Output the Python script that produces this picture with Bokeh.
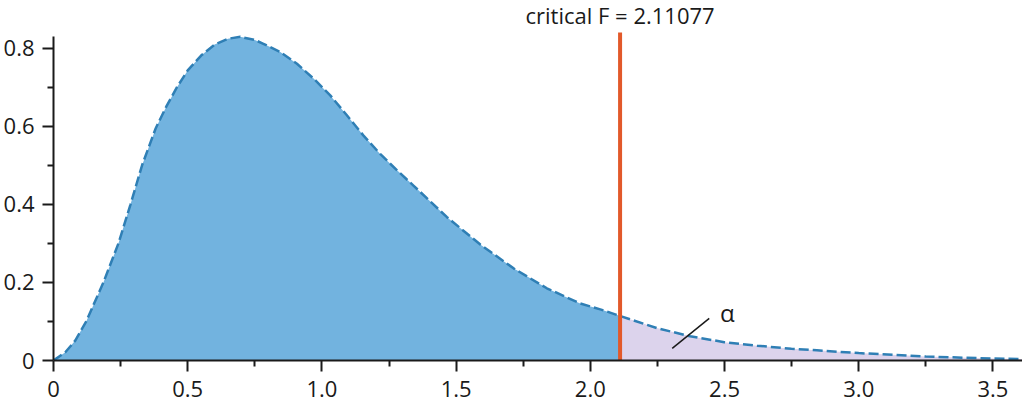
from bokeh.plotting import figure
from bokeh.models import FixedTicker, Range1d
from bokeh.core.properties import value
from bokeh.embed import file_html
from bokeh.resources import INLINE

# F density curve
fx = [0.00, 0.044, 0.081, 0.122, 0.15, 0.186, 0.242, 0.287, 0.33, 0.381, 0.42, 0.46,
      0.50, 0.55, 0.60, 0.65, 0.696, 0.75, 0.782, 0.845, 0.907, 0.969, 1.031, 1.093,
      1.155, 1.217, 1.28, 1.341, 1.466, 1.590, 1.714, 1.838, 1.962, 2.037, 2.11077,
      2.248, 2.372, 2.499, 2.621, 2.749, 2.844, 3.00, 3.25, 3.50, 3.65]
fy = [0.000, 0.021, 0.051, 0.100, 0.144, 0.200, 0.300, 0.400, 0.500, 0.595, 0.650, 0.700,
      0.743, 0.781, 0.809, 0.824, 0.829, 0.821, 0.811, 0.790, 0.760, 0.722, 0.679, 0.628,
      0.576, 0.529, 0.487, 0.448, 0.367, 0.297, 0.236, 0.185, 0.146, 0.131, 0.114,
      0.083, 0.062, 0.047, 0.038, 0.030, 0.026, 0.019, 0.010, 0.005, 0.003]

critical_f = 2.11077
critical_label = "critical F = 2.11077"
alpha_label = "α"

x_major = [0, 0.5, 1.0, 1.5, 2.0, 2.5, 3.0, 3.5]
x_minor = [0.25, 0.75, 1.25, 1.75, 2.25, 2.75, 3.25]
x_labels = {0: "0", 0.5: "0.5", 1: "1.0", 1.5: "1.5", 2: "2.0", 2.5: "2.5", 3: "3.0", 3.5: "3.5"}
y_major = [0, 0.2, 0.4, 0.6, 0.8]
y_minor = [0.1, 0.3, 0.5, 0.7]
y_labels = {0: "0", 0.2: "0.2", 0.4: "0.4", 0.6: "0.6", 0.8: "0.8"}

FONT = "Open Sans"

p = figure(width=1022, height=405, output_backend="svg", toolbar_location=None,
           x_range=Range1d(0, 3.61), y_range=Range1d(0, 0.922),
           min_border_left=53, min_border_right=0, min_border_top=0, min_border_bottom=45)
p.outline_line_color = None
p.xgrid.visible = False
p.ygrid.visible = False
p.background_fill_color = "white"
p.border_fill_color = "white"

left_x = [x for x in fx if x <= critical_f]
left_y = [y for x, y in zip(fx, fy) if x <= critical_f]
right_x = [x for x in fx if x >= critical_f]
right_y = [y for x, y in zip(fx, fy) if x >= critical_f]

p.varea(x=left_x, y1=[0] * len(left_x), y2=left_y, fill_color="#72b3df")
p.varea(x=right_x, y1=[0] * len(right_x), y2=right_y, fill_color="#dcd3ec")
p.line(fx, fy, line_color="#2f7fb5", line_width=2.5, line_dash="10 4")

p.segment(x0=[critical_f], y0=[0], x1=[critical_f], y1=[0.84],
          line_color="#e2592a", line_width=4)
p.text(x=[critical_f], y=[0.884], text=[critical_label], text_font=value(FONT),
       text_font_size="22px", text_align="center", text_baseline="middle",
       text_color="#1a1a1a")

p.segment(x0=[2.443], y0=[0.108], x1=[2.305], y1=[0.031], line_color="#1a1a1a", line_width=1.5)
p.text(x=[2.51], y=[0.122], text=[alpha_label], text_font=value(FONT),
       text_font_size="24px", text_align="center", text_baseline="middle",
       text_color="#1a1a1a")

for ax, major, minor, labels in ((p.xaxis[0], x_major, x_minor, x_labels),
                                 (p.yaxis[0], y_major, y_minor, y_labels)):
    ax.ticker = FixedTicker(ticks=major, minor_ticks=minor)
    ax.major_label_overrides = labels
    ax.axis_line_width = 2
    ax.axis_line_color = "#1a1a1a"
    ax.major_tick_line_color = "#1a1a1a"
    ax.minor_tick_line_color = "#1a1a1a"
    ax.major_tick_line_width = 2
    ax.minor_tick_line_width = 2
    ax.major_tick_in = 0
    ax.minor_tick_in = 0
    ax.major_tick_out = 11
    ax.minor_tick_out = 6
    ax.major_label_text_font = FONT
    ax.major_label_text_font_size = "22px"
    ax.major_label_text_color = "#1a1a1a"

p.yaxis[0].bounds = (0, 0.83)
p.yaxis[0].major_label_standoff = 8
p.xaxis[0].major_label_standoff = 9

open("out.html", "w").write(file_html(p, INLINE))
